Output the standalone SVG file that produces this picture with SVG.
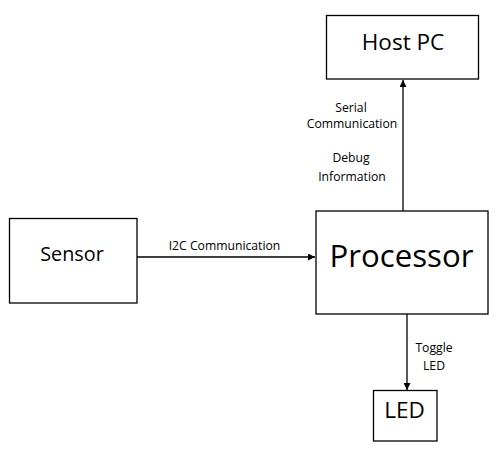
<svg xmlns="http://www.w3.org/2000/svg" width="497" height="452" viewBox="0 0 497 452">
<style>
.box{fill:#fff;stroke:#000;stroke-width:1.3}
.lbl{font-family:"Open Sans","Liberation Sans",sans-serif;fill:#000;text-anchor:middle}
.edge{stroke:#000;stroke-width:1.3;fill:none}
.el{font-family:"Open Sans","Liberation Sans",sans-serif;fill:#000;font-size:12.2px;text-anchor:middle}
</style>
<defs>
<marker id="arr" viewBox="0 0 10 10" refX="10" refY="5" markerWidth="7" markerHeight="7" orient="auto" markerUnits="userSpaceOnUse">
<path d="M0,0 L10,5 L0,10 z" fill="#000"/>
</marker>
</defs>
<rect width="497" height="452" fill="#fff"/>
<g id="connectors">
<line class="edge" x1="137" y1="257" x2="315" y2="257" marker-end="url(#arr)"/>
<line class="edge" x1="403" y1="211" x2="403" y2="80" marker-end="url(#arr)"/>
<line class="edge" x1="407" y1="314" x2="407" y2="390" marker-end="url(#arr)"/>
<text class="el" x="224.5" y="250">I2C Communication</text>
<text class="el" x="351" y="112">Serial</text>
<text class="el" x="352" y="128">Communication</text>
<text class="el" x="351" y="162">Debug</text>
<text class="el" x="352" y="181">Information</text>
<text class="el" x="434" y="352">Toggle</text>
<text class="el" x="434" y="370">LED</text>
</g>
<g id="hostpc">
<rect class="box" x="326.5" y="15.5" width="152" height="63.5"/>
<text class="lbl" x="403" y="50" font-size="22.5">Host PC</text>
</g>
<g id="sensor">
<rect class="box" x="9.5" y="218.5" width="127.5" height="84.5"/>
<text class="lbl" x="72" y="261" font-size="19.8">Sensor</text>
</g>
<g id="processor">
<rect class="box" x="316" y="211" width="172" height="103"/>
<text class="lbl" x="401.5" y="267" font-size="31.2">Processor</text>
</g>
<g id="led">
<rect class="box" x="373.5" y="390.5" width="63.5" height="50.5"/>
<text class="lbl" x="404.5" y="418" font-size="22.5">LED</text>
</g>
</svg>
